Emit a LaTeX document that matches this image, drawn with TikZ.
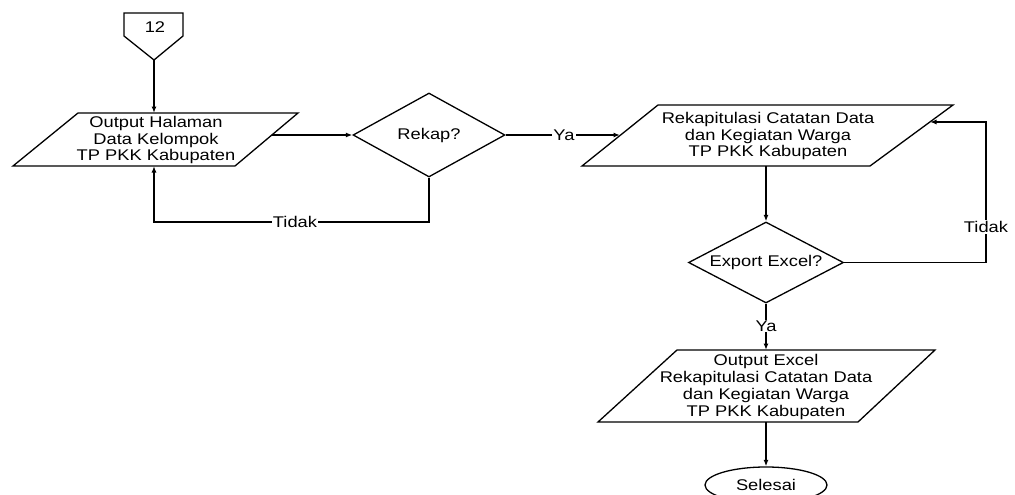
\documentclass[tikz,border=0pt]{standalone}
\usepackage{fontspec}
\setmainfont{Liberation Sans}[FakeStretch=1.18]
\usetikzlibrary{shapes.geometric,arrows.meta,calc}
\begin{document}
\begin{tikzpicture}[x=1pt,y=-1pt,
  line width=1.3pt,
  conn/.style={draw, -{Latex[length=6.5pt,width=5pt]}},
  lbl/.style={font=\fontsize{15.5}{16.7}\selectfont, align=center, inner sep=0pt},
  edgelbl/.style={lbl, fill=white, inner sep=1pt},
  io/.style={draw, line join=miter},
  decision/.style={diamond, draw, lbl},
  terminal/.style={ellipse, draw, lbl}]
\useasboundingbox (0,0) rectangle (1015,495);
\clip (0,0) rectangle (1015,495);

% off-page connector
\draw[io] (124,13) -- (183,13) -- (183,36) -- (154,60) -- (124,36) -- cycle;
\node[lbl] (con) at (155,27) {12};
\coordinate (contip) at (154,60);

% output 1
\draw[io] (78,113) -- (298,113) -- (235,166) -- (13,166) -- cycle;
\node[lbl] (p1) at (156,140) {Output Halaman\\Data Kelompok\\TP PKK Kabupaten};
\coordinate (p1in) at (154,113);
\coordinate (p1out) at (272,135);
\coordinate (p1ret) at (154,166);

% decision 1
\node[decision, minimum width=152pt, minimum height=84pt, aspect=1.8] (d1) at (429,135) {Rekap?};

% rekap output
\draw[io] (658,105) -- (953,105) -- (870,166) -- (582,166) -- cycle;
\node[lbl] (p2) at (768,136) {Rekapitulasi Catatan Data\\dan Kegiatan Warga\\TP PKK Kabupaten};
\coordinate (p2in) at (620,135);
\coordinate (p2bot) at (766,166);
\coordinate (p2ret) at (930,122);

% decision 2
\node[decision, minimum width=155pt, minimum height=81pt, aspect=1.9] (d2) at (766,262.5) {Export Excel?};

% output excel
\draw[io] (677,350) -- (935,350) -- (858,422) -- (598,422) -- cycle;
\node[lbl] (p3) at (766,387) {Output Excel\\Rekapitulasi Catatan Data\\dan Kegiatan Warga\\TP PKK Kabupaten};
\coordinate (p3top) at (766,350);
\coordinate (p3bot) at (766,422);

% terminal
\node[terminal, minimum width=122pt, minimum height=36pt] (end) at (766,485) {Selesai};

% connectors
\draw[conn] (contip) -- (p1in);
\draw[conn] (p1out) -- (d1.west);
\draw[conn] (d1.south) -- (429,222) -- (154,222) -- (p1ret);
\draw[conn] (d1.east) -- (p2in);
\draw[conn] (p2bot) -- (d2.north);
\draw[conn] (d2.east) -- (986,262.5) -- (986,122) -- (p2ret);
\draw[conn] (d2.south) -- (p3top);
\draw[conn] (p3bot) -- (end.north);

% labels
\node[edgelbl] (t1) at (295,222) {Tidak};
\node[edgelbl] (y1) at (564,135) {Ya};
\node[edgelbl] (t2) at (986,227) {Tidak};
\node[edgelbl] (y2) at (766,326) {Ya};
\end{tikzpicture}
\end{document}
